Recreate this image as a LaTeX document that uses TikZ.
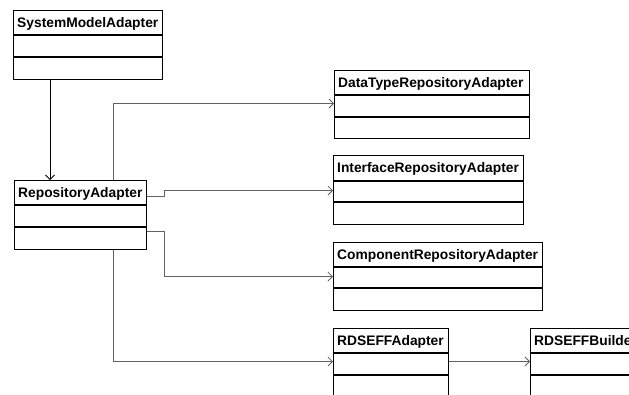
\documentclass[tikz,border=0pt]{standalone}
\usepackage{fontspec}
\setmainfont{Liberation Sans}
\usetikzlibrary{arrows.meta}
\tikzset{
  classbox/.style={draw=black, line width=1.2pt, fill=white, inner sep=0pt, anchor=north west},
  sepline/.style={draw=black, line width=1.2pt},
  classname/.style={anchor=base west, inner sep=0pt, font=\fontsize{13.8}{16}\selectfont\bfseries},
  conn/.style={draw=black!62, line width=0.9pt, -{Straight Barb[length=4.5pt,width=9pt,line width=0.8pt]}},
  connblack/.style={draw=black, line width=0.8pt, -{Straight Barb[length=4.5pt,width=9pt,line width=0.8pt]}}
}
% \umlclass{name}{x1}{y1}{x2}{y2}{header bottom}{middle}{text}
\newcommand{\umlclass}[8]{%
  \node[classbox, minimum width={(#4-#2)*1pt}, minimum height={(#5-#3)*1pt}] (#1) at (#2,#3) {};
  \node[classname] (#1-name) at (#2+4,#3+17.8) {#8};
  \draw[sepline] (#2,#6) -- (#4,#6);
  \draw[sepline] (#2,#7) -- (#4,#7);
}
\begin{document}
\begin{tikzpicture}[x=1pt,y=-1pt]
\useasboundingbox (0,0) rectangle (629,394);
\clip (0,0) rectangle (629,394);
\fill[white] (0,0) rectangle (629,394);

\umlclass{SMA}{13}{10}{162}{79}{35}{57}{SystemModelAdapter}
\umlclass{RA}{14}{180}{146}{249}{205}{227}{RepositoryAdapter}
\umlclass{DT}{334}{70}{529}{138}{95}{117}{DataTypeRepositoryAdapter}
\umlclass{IR}{333}{155}{523}{224}{181}{202}{InterfaceRepositoryAdapter}
\umlclass{CR}{333}{242}{542}{310}{267}{288}{ComponentRepositoryAdapter}
\umlclass{RD}{333}{328}{448}{402}{353}{375}{RDSEFFAdapter}
\umlclass{RB}{530}{328}{700}{402}{353}{375}{RDSEFFBuilder}

% helper coordinates
\coordinate (x50) at (50,0);
\coordinate (x113) at (113.5,0);
\coordinate (x164) at (164.5,0);
\coordinate (y104) at (0,103.5);
\coordinate (y197) at (0,196.5);
\coordinate (y190) at (0,190.5);
\coordinate (y231) at (0,231.5);
\coordinate (y276) at (0,276.5);
\coordinate (y362) at (0,361.5);

\draw[connblack] (SMA.south -| x50) -- (RA.north -| x50);
\draw[conn] (RA.north -| x113) |- (DT.west |- y104);
\draw[conn] (RA.east |- y197) -| (x164 |- y190) -- (IR.west |- y190);
\draw[conn] (RA.east |- y231) -| (x164 |- y276) -- (CR.west |- y276);
\draw[conn] (RA.south -| x113) |- (RD.west |- y362);
\draw[conn] (RD.east |- y362) -- (RB.west |- y362);
\end{tikzpicture}
\end{document}
